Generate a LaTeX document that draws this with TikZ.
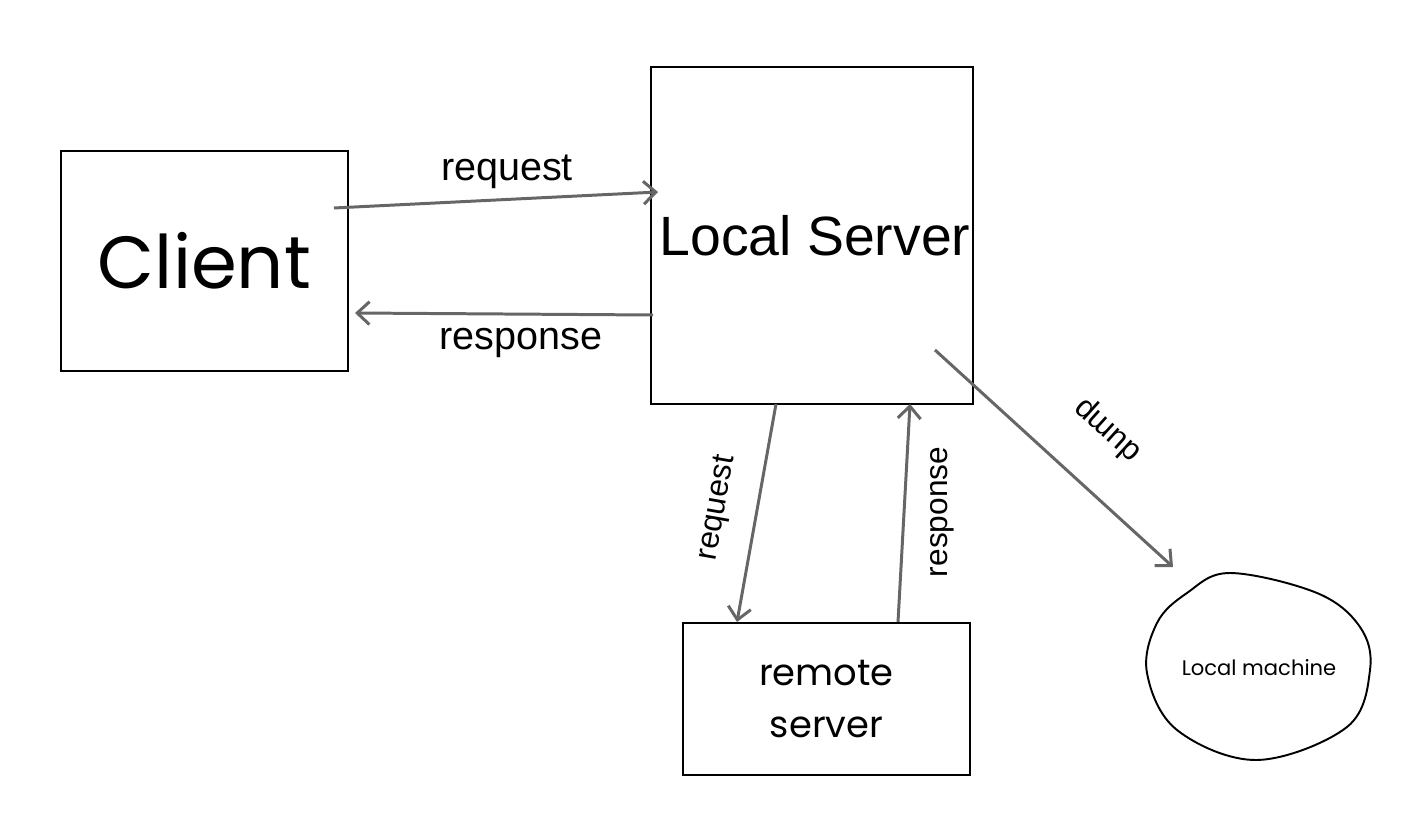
\documentclass[tikz,border=0pt]{standalone}
\usepackage{fontspec}
\setmainfont{Liberation Sans}
\newfontfamily\handfont{Poppins}
\usetikzlibrary{arrows.meta}
\usetikzlibrary{positioning}
\definecolor{arrgray}{HTML}{666666}
\tikzset{box/.style = {draw, line width = 1.1pt, inner sep = 0, align = center}}
\tikzset{arr/.style = {draw = arrgray, line width = 1.7pt, -{Straight Barb[length = 7pt, width = 13pt]}}}
\tikzset{biglbl/.style = {inner sep = 0, font = \fontsize{22.5}{26}\selectfont}}
\tikzset{lbl/.style = {inner sep = 0, font = \fontsize{18}{21}\selectfont}}

\begin{document}
\begin{tikzpicture}
    \useasboundingbox (0, 0) rectangle (28.28, -16.6);

    \node [box, minimum width = 5.74cm, minimum height = 4.4cm, font = \handfont\fontsize{42}{46}\selectfont] (client) at (4.09, -5.22) {Client};
    \node [box, minimum width = 6.44cm, minimum height = 6.74cm] (server) at (16.24, -4.71) {};
    \node [inner sep = 0, font = \fontsize{31.5}{36}\selectfont] (servertext) at (16.30, -4.72) {Local Server};
    \node [box, minimum width = 5.74cm, minimum height = 3.04cm, font = \handfont\fontsize{21}{30}\selectfont] (remote) at (16.53, -13.98) {remote\\server};

    \draw [line width = 1.1pt] plot [smooth cycle, tension = 0.6] coordinates {(24.60, -11.46) (26.34, -11.86) (27.20, -12.54) (27.40, -13.40) (26.94, -14.54) (25.14, -15.20) (23.54, -14.60) (22.94, -13.46) (23.14, -12.46) (23.74, -11.86)};
    \node [inner sep = 0, font = \handfont\fontsize{12}{14}\selectfont] (machine) at (25.18, -13.36) {Local machine};

    \coordinate (reqA) at (6.68, -4.16);
    \coordinate (reqB) at (13.16, -3.84);
    \coordinate (resA) at (13.06, -6.30);
    \coordinate (resB) at (7.10, -6.26);
    \coordinate (rreqA) at (15.52, -8.08);
    \coordinate (rreqB) at (14.74, -12.44);
    \coordinate (rresA) at (17.96, -12.44);
    \coordinate (rresB) at (18.20, -8.08);
    \coordinate (dumpA) at (18.70, -7.00);
    \coordinate (dumpB) at (23.46, -11.34);

    \draw [arr] (reqA) -- (reqB);
    \draw [arr] (resA) -- (resB);
    \draw [arr] (rreqA) -- (rreqB);
    \draw [arr] (rresA) -- (rresB);
    \draw [arr] (dumpA) -- (dumpB);

    \node [biglbl] (reqlbl) at (10.14, -3.44) {request};
    \node [biglbl] (reslbl) at (10.42, -6.86) {response};
    \node [lbl, rotate = 80] (rreqlbl) at (14.36, -10.16) {request};
    \node [lbl, rotate = 90] (rreslbl) at (18.84, -10.24) {response};
    \node [lbl, rotate = 138] (dumplbl) at (22.16, -8.60) {dump};
\end{tikzpicture}
\end{document}
